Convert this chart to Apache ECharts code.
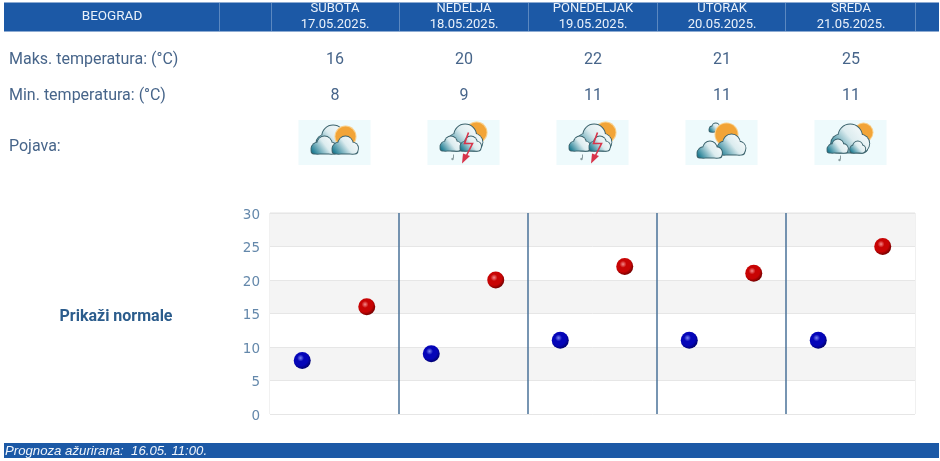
<!DOCTYPE html>
<html>
<head>
  <meta charset="utf-8">
  <title>Prognoza Beograd</title>
  <style>
    html, body { margin: 0; padding: 0; background: #fff; }
    #main { width: 940px; height: 461px; }
  </style>
</head>
<body>
  <div id="main"></div>
  <script src="https://cdn.jsdelivr.net/npm/echarts@6/dist/echarts.min.js"></script>
  <script>
    const city = 'BEOGRAD';
    const days = ['SUBOTA', 'NEDELJA', 'PONEDELJAK', 'UTORAK', 'SREDA'];
    const dates = ['17.05.2025.', '18.05.2025.', '19.05.2025.', '20.05.2025.', '21.05.2025.'];
    const maxTemps = [16, 20, 22, 21, 25];
    const minTemps = [8, 9, 11, 11, 11];
    const icons = ['cloudy', 'storm', 'storm', 'sunny', 'shower'];
    const yTicks = [0, 5, 10, 15, 20, 25, 30];
    const updated = 'Prognoza ažurirana:  16.05. 11:00.';

    const FONT = 'Roboto, "Noto Sans", sans-serif';
    const BLUE = '#1c59a6';
    const LABEL = '#47658a';
    const gridLeft = 270, gridTop = 213, gridW = 645, gridH = 201;
    const cellW = gridW / days.length;

    function text(x, y, str, size, color, align, extra) {
      return {
        type: 'text', x: x, y: y, silent: true,
        style: Object.assign({
          text: str, font: size + 'px ' + FONT, fill: color,
          align: align || 'center', verticalAlign: 'middle'
        }, extra || {})
      };
    }

    function ball(c1, c2, c3) {
      return {
        type: 'radial', x: 0.4, y: 0.36, r: 0.68,
        colorStops: [
          { offset: 0, color: c1 },
          { offset: 0.3, color: c2 },
          { offset: 0.65, color: c2 },
          { offset: 1, color: c3 }
        ]
      };
    }

    // oblak: tamna silueta pa svetliji sloj preko nje
    function cloud(x, y, w, h) {
      const lobes = [
        [x + w * 0.24, y + h * 0.68, h * 0.32],
        [x + w * 0.52, y + h * 0.42, h * 0.42],
        [x + w * 0.8, y + h * 0.68, h * 0.32]
      ];
      const fill = {
        type: 'linear', global: true, x: x + w, y: y, x2: x + w * 0.1, y2: y + h,
        colorStops: [
          { offset: 0, color: '#ffffff' },
          { offset: 0.5, color: '#dcecef' },
          { offset: 1, color: '#1f7d93' }
        ]
      };
      const base = { x: x, y: y + h * 0.5, width: w, height: h * 0.5, r: h * 0.2 };
      const out = [];
      lobes.forEach(l => out.push({ type: 'circle', silent: true, shape: { cx: l[0], cy: l[1], r: l[2] + 0.9 }, style: { fill: '#3a626c' } }));
      out.push({ type: 'rect', silent: true, shape: { x: x - 0.9, y: base.y, width: w + 1.8, height: base.height + 0.9, r: h * 0.2 }, style: { fill: '#3a626c' } });
      lobes.forEach(l => out.push({ type: 'circle', silent: true, shape: { cx: l[0], cy: l[1], r: l[2] }, style: { fill: fill } }));
      out.push({ type: 'rect', silent: true, shape: base, style: { fill: fill } });
      return out;
    }

    function sun(cx, cy, r) {
      return [
        { type: 'circle', silent: true, shape: { cx: cx, cy: cy, r: r + 1 }, style: { fill: '#f9cf8a' } },
        { type: 'circle', silent: true, shape: { cx: cx, cy: cy, r: r }, style: { fill: '#f2a437' } }
      ];
    }

    function drop(cx, cy) {
      return [
        { type: 'line', silent: true, shape: { x1: cx + 1, y1: cy - 3, x2: cx + 1, y2: cy + 1 }, style: { stroke: '#8a9ca0', lineWidth: 1 } },
        { type: 'circle', silent: true, shape: { cx: cx, cy: cy + 1.5, r: 1.2 }, style: { fill: '#8a9ca0' } }
      ];
    }

    function bolt(cx, cy) {
      return [
        {
          type: 'polyline', silent: true,
          shape: { points: [[cx + 5, cy - 10], [cx + 1, cy + 1], [cx + 9, cy + 1], [cx + 3, cy + 13]] },
          style: { stroke: '#d8344a', lineWidth: 1.6, fill: 'none' }
        },
        {
          type: 'polygon', silent: true,
          shape: { points: [[cx - 0.5, cy + 11], [cx + 6.5, cy + 13.5], [cx - 1.5, cy + 21]] },
          style: { fill: '#d8344a' }
        }
      ];
    }

    function drawIcon(cx, kind) {
      const cy = 142.5;
      let els = [{ type: 'rect', silent: true, shape: { x: cx - 36, y: 120, width: 72, height: 45 }, style: { fill: '#eefafc' } }];
      if (kind === 'cloudy') {
        els = els.concat(cloud(cx - 17, cy - 17, 30, 26), sun(cx + 11, cy - 6, 10), cloud(cx - 23, cy - 6, 25, 17), cloud(cx - 2, cy - 6, 25, 17));
      } else if (kind === 'sunny') {
        els = els.concat(cloud(cx - 12, cy - 19, 12, 8), sun(cx + 5, cy - 8, 11), cloud(cx - 4, cy - 8, 27, 20), cloud(cx - 24, cy - 1, 24, 16));
      } else if (kind === 'storm') {
        els = els.concat(sun(cx + 13, cy - 10, 10), cloud(cx - 15, cy - 18, 32, 26), cloud(cx - 23, cy - 6, 20, 14), cloud(cx - 3, cy - 6, 20, 14), drop(cx - 11, cy + 15), bolt(cx, cy));
      } else {
        els = els.concat(sun(cx + 13, cy - 10, 9), cloud(cx - 19, cy - 18, 36, 28), cloud(cx - 23, cy - 3, 20, 13), cloud(cx + 0, cy - 1, 14, 11), drop(cx - 11, cy + 16));
      }
      return els;
    }

    const els = [];
    // zaglavlje
    els.push({ type: 'rect', silent: true, shape: { x: 4, y: 2.5, width: 935, height: 29 }, style: { fill: BLUE } });
    [219.5, 271.5, 399.5, 528.5, 657.5, 785.5, 915.5].forEach(x => {
      els.push({ type: 'line', silent: true, shape: { x1: x, y1: 3, x2: x, y2: 31 }, style: { stroke: '#5b88c0', lineWidth: 1 } });
    });
    els.push(text(112, 17, city, 13.5, '#eaf1fa'));
    days.forEach((d, i) => {
      const cx = gridLeft + cellW * (i + 0.5);
      els.push(text(cx + 0.5, 9, d, 13, '#eaf1fa'));
      els.push(text(cx + 0.5, 25, dates[i], 13, '#eaf1fa'));
      els.push(text(cx + 0.5, 60, String(maxTemps[i]), 16, LABEL));
      els.push(text(cx + 0.5, 96, String(minTemps[i]), 16, LABEL));
      drawIcon(cx, icons[i]).forEach(e => els.push(e));
    });
    els.push(text(9, 60, 'Maks. temperatura: (°C)', 16, LABEL, 'left'));
    els.push(text(9, 96, 'Min. temperatura: (°C)', 16, LABEL, 'left'));
    els.push(text(9, 147, 'Pojava:', 16, LABEL, 'left'));
    els.push(text(116, 317, 'Prikaži normale', 16, '#2b5c8c', 'center', { font: 'bold 16px ' + FONT }));
    // podnozje
    els.push({ type: 'rect', silent: true, shape: { x: 4, y: 443, width: 935, height: 15 }, style: { fill: BLUE } });
    els.push(text(5, 451, updated, 13.2, '#f0f5fb', 'left', { font: 'italic 13.2px "Liberation Sans", Arial, sans-serif' }));

    const option = {
      animation: false,
      grid: {
        left: gridLeft, top: gridTop, width: gridW, height: gridH,
        show: true, borderColor: '#e2e2e2', borderWidth: 1, backgroundColor: '#fff'
      },
      xAxis: {
        type: 'value', min: 0, max: days.length, interval: 1,
        axisLine: { show: false }, axisTick: { show: false }, axisLabel: { show: false },
        splitLine: { show: true, showMinLine: false, showMaxLine: false, lineStyle: { color: '#4a7299', width: 1.5 } }
      },
      yAxis: {
        type: 'value', min: yTicks[0], max: yTicks[yTicks.length - 1], interval: 5,
        axisLine: { show: false }, axisTick: { show: false },
        axisLabel: { color: '#6488ab', fontSize: 13.5, fontFamily: '"DejaVu Sans", sans-serif', margin: 10, verticalAlign: 'top', lineHeight: 4 },
        splitLine: { show: true, lineStyle: { color: '#e6e6e6', width: 1 } },
        splitArea: { show: true, areaStyle: { color: ['#ffffff', '#f4f4f4'] } }
      },
      graphic: { elements: els },
      series: [
        {
          name: 'Min', type: 'scatter', symbolSize: 17, z: 5,
          data: minTemps.map((v, i) => [i + 0.25, v]),
          itemStyle: { opacity: 1, color: ball('#7a84f0', '#0505b8', '#000066') }
        },
        {
          name: 'Maks', type: 'scatter', symbolSize: 17, z: 5,
          data: maxTemps.map((v, i) => [i + 0.75, v]),
          itemStyle: { opacity: 1, color: ball('#f58a8a', '#c80404', '#660000') }
        }
      ]
    };

    echarts.init(document.getElementById('main')).setOption(option);
  </script>
</body>
</html>
